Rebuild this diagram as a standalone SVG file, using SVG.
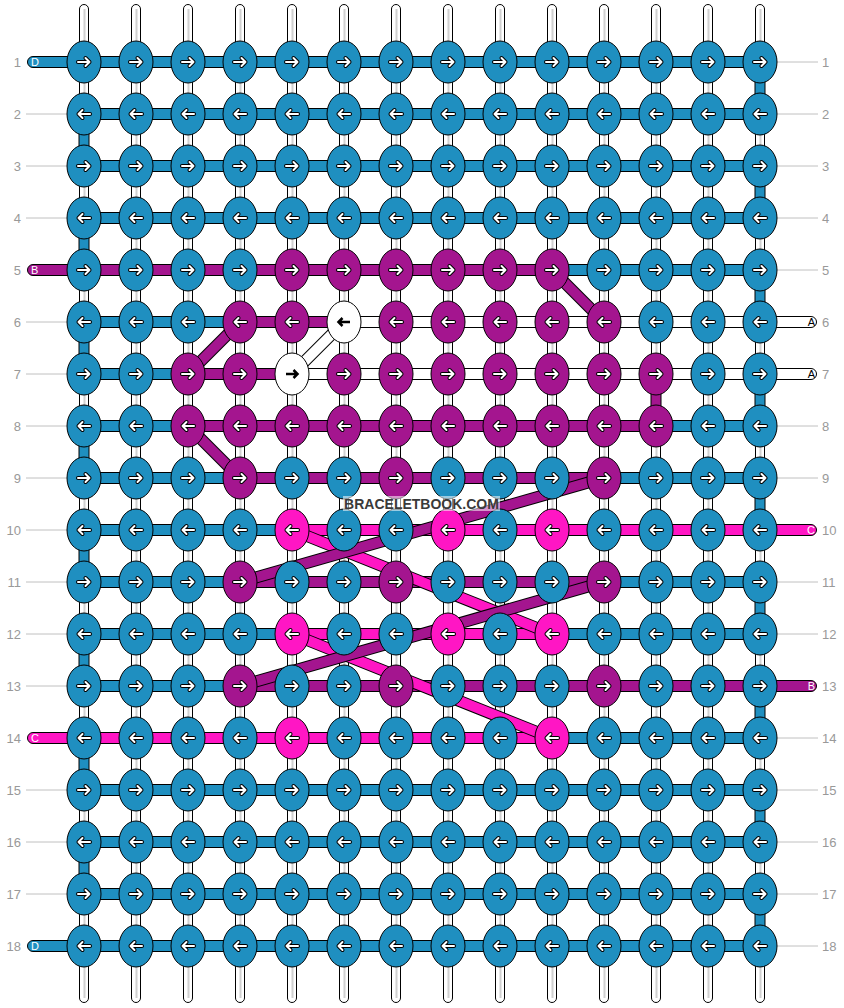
<svg xmlns="http://www.w3.org/2000/svg" xmlns:xlink="http://www.w3.org/1999/xlink" width="844" height="1008" viewBox="0 0 844 1008">
<style>
.t{fill:#fff;stroke:#000;stroke-width:1}
.tc{stroke:#d0d0d0;stroke-width:2}
.hb{stroke:#000;stroke-width:1}
.B{fill:#1f8fc0}.P{fill:#a4158f}.K{fill:#ff16c4}.W{fill:#fff}
ellipse{stroke:#000;stroke-width:1}
.ao{stroke:#000;stroke-width:4;fill:none;stroke-linecap:round;stroke-linejoin:round}
.ai{stroke:#fff;stroke-width:2;fill:none;stroke-linecap:round;stroke-linejoin:round}
.ab{stroke:#000;stroke-width:2.5;fill:none}
.gl{stroke:#c0c0c0;stroke-width:1}
.num{font-family:"Liberation Sans",Arial,sans-serif;font-size:13px;fill:#999}
.lab{font-family:"Liberation Sans",Arial,sans-serif;font-size:11px}
.dO{stroke:#000;stroke-width:12}
.dP{stroke:#a4158f;stroke-width:10}
.dK{stroke:#ff16c4;stroke-width:10}
.dW{stroke:#fff;stroke-width:10}
</style>
<defs>
<path id="ar" d="M-6,0H5.5M1.5,-4L5.5,0L1.5,4"/>
<path id="al" d="M6,0H-5.5M-1.5,-4L-5.5,0L-1.5,4"/>
<g id="R"><use href="#ar" class="ao"/><use href="#ar" class="ai"/></g>
<g id="L"><use href="#al" class="ao"/><use href="#al" class="ai"/></g>
<g id="RB"><use href="#ar" class="ab"/></g>
<g id="LB"><use href="#al" class="ab"/></g>
</defs>
<rect width="844" height="1008" fill="#fff"/>

<g id="row-labels">
<g class="gl">
<line x1="26" y1="114" x2="67" y2="114"/><line x1="26" y1="166" x2="67" y2="166"/><line x1="26" y1="218" x2="67" y2="218"/><line x1="26" y1="322" x2="67" y2="322"/><line x1="26" y1="374" x2="67" y2="374"/><line x1="26" y1="426" x2="67" y2="426"/><line x1="26" y1="478" x2="67" y2="478"/><line x1="26" y1="530" x2="67" y2="530"/><line x1="26" y1="582" x2="67" y2="582"/><line x1="26" y1="634" x2="67" y2="634"/><line x1="26" y1="686" x2="67" y2="686"/><line x1="26" y1="790" x2="67" y2="790"/><line x1="26" y1="842" x2="67" y2="842"/><line x1="26" y1="894" x2="67" y2="894"/>
<line x1="777" y1="62" x2="818" y2="62"/><line x1="777" y1="114" x2="818" y2="114"/><line x1="777" y1="166" x2="818" y2="166"/><line x1="777" y1="218" x2="818" y2="218"/><line x1="777" y1="270" x2="818" y2="270"/><line x1="777" y1="426" x2="818" y2="426"/><line x1="777" y1="478" x2="818" y2="478"/><line x1="777" y1="582" x2="818" y2="582"/><line x1="777" y1="634" x2="818" y2="634"/><line x1="777" y1="738" x2="818" y2="738"/><line x1="777" y1="790" x2="818" y2="790"/><line x1="777" y1="842" x2="818" y2="842"/><line x1="777" y1="894" x2="818" y2="894"/><line x1="777" y1="946" x2="818" y2="946"/>
</g>
<g class="num" text-anchor="end">
<text x="21" y="66.5">1</text><text x="21" y="118.5">2</text><text x="21" y="170.5">3</text><text x="21" y="222.5">4</text><text x="21" y="274.5">5</text><text x="21" y="326.5">6</text><text x="21" y="378.5">7</text><text x="21" y="430.5">8</text><text x="21" y="482.5">9</text><text x="21" y="534.5">10</text><text x="21" y="586.5">11</text><text x="21" y="638.5">12</text><text x="21" y="690.5">13</text><text x="21" y="742.5">14</text><text x="21" y="794.5">15</text><text x="21" y="846.5">16</text><text x="21" y="898.5">17</text><text x="21" y="950.5">18</text>
</g>
<g class="num">
<text x="822" y="66.5">1</text><text x="822" y="118.5">2</text><text x="822" y="170.5">3</text><text x="822" y="222.5">4</text><text x="822" y="274.5">5</text><text x="822" y="326.5">6</text><text x="822" y="378.5">7</text><text x="822" y="430.5">8</text><text x="822" y="482.5">9</text><text x="822" y="534.5">10</text><text x="822" y="586.5">11</text><text x="822" y="638.5">12</text><text x="822" y="690.5">13</text><text x="822" y="742.5">14</text><text x="822" y="794.5">15</text><text x="822" y="846.5">16</text><text x="822" y="898.5">17</text><text x="822" y="950.5">18</text>
</g>
</g>

<g id="verticals">
<rect class="t" x="79.5" y="4.5" width="9" height="998" rx="4.5"/><rect class="t" x="131.5" y="4.5" width="9" height="998" rx="4.5"/><rect class="t" x="183.5" y="4.5" width="9" height="998" rx="4.5"/><rect class="t" x="235.5" y="4.5" width="9" height="998" rx="4.5"/><rect class="t" x="287.5" y="4.5" width="9" height="998" rx="4.5"/><rect class="t" x="339.5" y="4.5" width="9" height="998" rx="4.5"/><rect class="t" x="391.5" y="4.5" width="9" height="998" rx="4.5"/><rect class="t" x="443.5" y="4.5" width="9" height="998" rx="4.5"/><rect class="t" x="495.5" y="4.5" width="9" height="998" rx="4.5"/><rect class="t" x="547.5" y="4.5" width="9" height="998" rx="4.5"/><rect class="t" x="599.5" y="4.5" width="9" height="998" rx="4.5"/><rect class="t" x="651.5" y="4.5" width="9" height="998" rx="4.5"/><rect class="t" x="703.5" y="4.5" width="9" height="998" rx="4.5"/><rect class="t" x="755.5" y="4.5" width="9" height="998" rx="4.5"/>
<g class="tc">
<line x1="84.5" y1="9" x2="84.5" y2="998"/><line x1="136.5" y1="9" x2="136.5" y2="998"/><line x1="188.5" y1="9" x2="188.5" y2="998"/><line x1="240.5" y1="9" x2="240.5" y2="998"/><line x1="292.5" y1="9" x2="292.5" y2="998"/><line x1="344.5" y1="9" x2="344.5" y2="998"/><line x1="396.5" y1="9" x2="396.5" y2="998"/><line x1="448.5" y1="9" x2="448.5" y2="998"/><line x1="500.5" y1="9" x2="500.5" y2="998"/><line x1="552.5" y1="9" x2="552.5" y2="998"/><line x1="604.5" y1="9" x2="604.5" y2="998"/><line x1="656.5" y1="9" x2="656.5" y2="998"/><line x1="708.5" y1="9" x2="708.5" y2="998"/><line x1="760.5" y1="9" x2="760.5" y2="998"/>
</g>
</g>

<g id="connectors">
<g class="hb">
<!-- row 1 -->
<rect class="B" x="27.5" y="56.5" width="733" height="11" rx="5.5"/>
<rect class="B" x="84" y="108.5" width="676" height="11"/>
<rect class="B" x="84" y="160.5" width="676" height="11"/>
<rect class="B" x="84" y="212.5" width="676" height="11"/>
<!-- row 5 -->
<rect class="P" x="27.5" y="264.5" width="524.5" height="11" rx="5.5"/>
<rect class="B" x="552" y="264.5" width="208" height="11"/>
<!-- row 6 -->
<rect class="B" x="84" y="316.5" width="156" height="11"/>
<rect class="P" x="240" y="316.5" width="104" height="11"/>
<rect class="W" x="344" y="316.5" width="472.5" height="11" rx="5.5"/>
<!-- row 7 -->
<rect class="B" x="84" y="368.5" width="104" height="11"/>
<rect class="P" x="188" y="368.5" width="104" height="11"/>
<rect class="W" x="292" y="368.5" width="524.5" height="11" rx="5.5"/>
<!-- row 8 -->
<rect class="B" x="84" y="420.5" width="104" height="11"/>
<rect class="P" x="188" y="420.5" width="468" height="11"/>
<rect class="B" x="656" y="420.5" width="104" height="11"/>
<!-- row 9 -->
<rect class="B" x="84" y="472.5" width="156" height="11"/>
<rect class="P" x="240" y="472.5" width="364" height="11"/>
<rect class="B" x="604" y="472.5" width="156" height="11"/>
<!-- row 10 -->
<rect class="B" x="84" y="524.5" width="208" height="11"/>
<rect class="K" x="292" y="524.5" width="524.5" height="11" rx="5.5"/>
<!-- row 11 -->
<rect class="B" x="84" y="576.5" width="156" height="11"/>
<rect class="P" x="240" y="576.5" width="364" height="11"/>
<rect class="B" x="604" y="576.5" width="156" height="11"/>
<!-- row 12 -->
<rect class="B" x="84" y="628.5" width="208" height="11"/>
<rect class="K" x="292" y="628.5" width="260" height="11"/>
<rect class="B" x="552" y="628.5" width="208" height="11"/>
<!-- row 13 -->
<rect class="B" x="84" y="680.5" width="156" height="11"/>
<rect class="P" x="240" y="680.5" width="576.5" height="11" rx="5.5"/>
<!-- row 14 -->
<rect class="K" x="27.5" y="732.5" width="524.5" height="11" rx="5.5"/>
<rect class="B" x="552" y="732.5" width="208" height="11"/>
<!-- rows 15-18 -->
<rect class="B" x="84" y="784.5" width="676" height="11"/>
<rect class="B" x="84" y="836.5" width="676" height="11"/>
<rect class="B" x="84" y="888.5" width="676" height="11"/>
<rect class="B" x="27.5" y="940.5" width="733" height="11" rx="5.5"/>
<!-- vertical colored segments left edge -->
<rect class="B" x="79" y="114" width="10" height="52"/><rect class="B" x="79" y="218" width="10" height="52"/><rect class="B" x="79" y="322" width="10" height="52"/><rect class="B" x="79" y="426" width="10" height="52"/><rect class="B" x="79" y="530" width="10" height="52"/><rect class="B" x="79" y="634" width="10" height="52"/><rect class="B" x="79" y="738" width="10" height="52"/><rect class="B" x="79" y="842" width="10" height="52"/>
<!-- right edge -->
<rect class="B" x="755" y="62" width="10" height="52"/><rect class="B" x="755" y="166" width="10" height="52"/><rect class="B" x="755" y="270" width="10" height="52"/><rect class="B" x="755" y="374" width="10" height="52"/><rect class="B" x="755" y="478" width="10" height="52"/><rect class="B" x="755" y="582" width="10" height="52"/><rect class="B" x="755" y="686" width="10" height="52"/><rect class="B" x="755" y="790" width="10" height="52"/><rect class="B" x="755" y="894" width="10" height="52"/>
<rect class="P" x="651" y="374" width="10" height="52"/>
</g>
<g class="lab">
<text x="31" y="66" fill="#fff">D</text>
<text x="31" y="274" fill="#fff">B</text>
<text x="31" y="742" fill="#fff">C</text>
<text x="31" y="950" fill="#fff">D</text>
<text x="815" y="326" fill="#000" text-anchor="end">A</text>
<text x="815" y="378" fill="#000" text-anchor="end">A</text>
<text x="815" y="534" fill="#fff" text-anchor="end">C</text>
<text x="815" y="690" fill="#fff" text-anchor="end">B</text>
</g>
<!-- diagonals -->
<line class="dO" x1="344" y1="322" x2="292" y2="374"/><line class="dW" x1="344" y1="322" x2="292" y2="374"/>
<line class="dO" x1="552" y1="270" x2="604" y2="322"/><line class="dP" x1="552" y1="270" x2="604" y2="322"/>
<line class="dO" x1="240" y1="322" x2="188" y2="374"/><line class="dP" x1="240" y1="322" x2="188" y2="374"/>
<line class="dO" x1="188" y1="426" x2="240" y2="478"/><line class="dP" x1="188" y1="426" x2="240" y2="478"/>
<line class="dO" x1="292" y1="530" x2="552" y2="634"/><line class="dK" x1="292" y1="530" x2="552" y2="634"/>
<line class="dO" x1="292" y1="634" x2="552" y2="738"/><line class="dK" x1="292" y1="634" x2="552" y2="738"/>
<line class="dO" x1="604" y1="478" x2="240" y2="582"/><line class="dP" x1="604" y1="478" x2="240" y2="582"/>
<line class="dO" x1="604" y1="582" x2="240" y2="686"/><line class="dP" x1="604" y1="582" x2="240" y2="686"/>
</g>

<g id="knots">
<!-- row 1 -->
<g id="n1-1" class="B"><ellipse cx="84" cy="62" rx="17" ry="21"/><use href="#R" x="84" y="62"/></g>
<g id="n1-2" class="B"><ellipse cx="136" cy="62" rx="17" ry="21"/><use href="#R" x="136" y="62"/></g>
<g id="n1-3" class="B"><ellipse cx="188" cy="62" rx="17" ry="21"/><use href="#R" x="188" y="62"/></g>
<g id="n1-4" class="B"><ellipse cx="240" cy="62" rx="17" ry="21"/><use href="#R" x="240" y="62"/></g>
<g id="n1-5" class="B"><ellipse cx="292" cy="62" rx="17" ry="21"/><use href="#R" x="292" y="62"/></g>
<g id="n1-6" class="B"><ellipse cx="344" cy="62" rx="17" ry="21"/><use href="#R" x="344" y="62"/></g>
<g id="n1-7" class="B"><ellipse cx="396" cy="62" rx="17" ry="21"/><use href="#R" x="396" y="62"/></g>
<g id="n1-8" class="B"><ellipse cx="448" cy="62" rx="17" ry="21"/><use href="#R" x="448" y="62"/></g>
<g id="n1-9" class="B"><ellipse cx="500" cy="62" rx="17" ry="21"/><use href="#R" x="500" y="62"/></g>
<g id="n1-10" class="B"><ellipse cx="552" cy="62" rx="17" ry="21"/><use href="#R" x="552" y="62"/></g>
<g id="n1-11" class="B"><ellipse cx="604" cy="62" rx="17" ry="21"/><use href="#R" x="604" y="62"/></g>
<g id="n1-12" class="B"><ellipse cx="656" cy="62" rx="17" ry="21"/><use href="#R" x="656" y="62"/></g>
<g id="n1-13" class="B"><ellipse cx="708" cy="62" rx="17" ry="21"/><use href="#R" x="708" y="62"/></g>
<g id="n1-14" class="B"><ellipse cx="760" cy="62" rx="17" ry="21"/><use href="#R" x="760" y="62"/></g>
<!-- row 2 -->
<g id="n2-1" class="B"><ellipse cx="84" cy="114" rx="17" ry="21"/><use href="#L" x="84" y="114"/></g>
<g id="n2-2" class="B"><ellipse cx="136" cy="114" rx="17" ry="21"/><use href="#L" x="136" y="114"/></g>
<g id="n2-3" class="B"><ellipse cx="188" cy="114" rx="17" ry="21"/><use href="#L" x="188" y="114"/></g>
<g id="n2-4" class="B"><ellipse cx="240" cy="114" rx="17" ry="21"/><use href="#L" x="240" y="114"/></g>
<g id="n2-5" class="B"><ellipse cx="292" cy="114" rx="17" ry="21"/><use href="#L" x="292" y="114"/></g>
<g id="n2-6" class="B"><ellipse cx="344" cy="114" rx="17" ry="21"/><use href="#L" x="344" y="114"/></g>
<g id="n2-7" class="B"><ellipse cx="396" cy="114" rx="17" ry="21"/><use href="#L" x="396" y="114"/></g>
<g id="n2-8" class="B"><ellipse cx="448" cy="114" rx="17" ry="21"/><use href="#L" x="448" y="114"/></g>
<g id="n2-9" class="B"><ellipse cx="500" cy="114" rx="17" ry="21"/><use href="#L" x="500" y="114"/></g>
<g id="n2-10" class="B"><ellipse cx="552" cy="114" rx="17" ry="21"/><use href="#L" x="552" y="114"/></g>
<g id="n2-11" class="B"><ellipse cx="604" cy="114" rx="17" ry="21"/><use href="#L" x="604" y="114"/></g>
<g id="n2-12" class="B"><ellipse cx="656" cy="114" rx="17" ry="21"/><use href="#L" x="656" y="114"/></g>
<g id="n2-13" class="B"><ellipse cx="708" cy="114" rx="17" ry="21"/><use href="#L" x="708" y="114"/></g>
<g id="n2-14" class="B"><ellipse cx="760" cy="114" rx="17" ry="21"/><use href="#L" x="760" y="114"/></g>
<!-- row 3 -->
<g id="n3-1" class="B"><ellipse cx="84" cy="166" rx="17" ry="21"/><use href="#R" x="84" y="166"/></g>
<g id="n3-2" class="B"><ellipse cx="136" cy="166" rx="17" ry="21"/><use href="#R" x="136" y="166"/></g>
<g id="n3-3" class="B"><ellipse cx="188" cy="166" rx="17" ry="21"/><use href="#R" x="188" y="166"/></g>
<g id="n3-4" class="B"><ellipse cx="240" cy="166" rx="17" ry="21"/><use href="#R" x="240" y="166"/></g>
<g id="n3-5" class="B"><ellipse cx="292" cy="166" rx="17" ry="21"/><use href="#R" x="292" y="166"/></g>
<g id="n3-6" class="B"><ellipse cx="344" cy="166" rx="17" ry="21"/><use href="#R" x="344" y="166"/></g>
<g id="n3-7" class="B"><ellipse cx="396" cy="166" rx="17" ry="21"/><use href="#R" x="396" y="166"/></g>
<g id="n3-8" class="B"><ellipse cx="448" cy="166" rx="17" ry="21"/><use href="#R" x="448" y="166"/></g>
<g id="n3-9" class="B"><ellipse cx="500" cy="166" rx="17" ry="21"/><use href="#R" x="500" y="166"/></g>
<g id="n3-10" class="B"><ellipse cx="552" cy="166" rx="17" ry="21"/><use href="#R" x="552" y="166"/></g>
<g id="n3-11" class="B"><ellipse cx="604" cy="166" rx="17" ry="21"/><use href="#R" x="604" y="166"/></g>
<g id="n3-12" class="B"><ellipse cx="656" cy="166" rx="17" ry="21"/><use href="#R" x="656" y="166"/></g>
<g id="n3-13" class="B"><ellipse cx="708" cy="166" rx="17" ry="21"/><use href="#R" x="708" y="166"/></g>
<g id="n3-14" class="B"><ellipse cx="760" cy="166" rx="17" ry="21"/><use href="#R" x="760" y="166"/></g>
<!-- row 4 -->
<g id="n4-1" class="B"><ellipse cx="84" cy="218" rx="17" ry="21"/><use href="#L" x="84" y="218"/></g>
<g id="n4-2" class="B"><ellipse cx="136" cy="218" rx="17" ry="21"/><use href="#L" x="136" y="218"/></g>
<g id="n4-3" class="B"><ellipse cx="188" cy="218" rx="17" ry="21"/><use href="#L" x="188" y="218"/></g>
<g id="n4-4" class="B"><ellipse cx="240" cy="218" rx="17" ry="21"/><use href="#L" x="240" y="218"/></g>
<g id="n4-5" class="B"><ellipse cx="292" cy="218" rx="17" ry="21"/><use href="#L" x="292" y="218"/></g>
<g id="n4-6" class="B"><ellipse cx="344" cy="218" rx="17" ry="21"/><use href="#L" x="344" y="218"/></g>
<g id="n4-7" class="B"><ellipse cx="396" cy="218" rx="17" ry="21"/><use href="#L" x="396" y="218"/></g>
<g id="n4-8" class="B"><ellipse cx="448" cy="218" rx="17" ry="21"/><use href="#L" x="448" y="218"/></g>
<g id="n4-9" class="B"><ellipse cx="500" cy="218" rx="17" ry="21"/><use href="#L" x="500" y="218"/></g>
<g id="n4-10" class="B"><ellipse cx="552" cy="218" rx="17" ry="21"/><use href="#L" x="552" y="218"/></g>
<g id="n4-11" class="B"><ellipse cx="604" cy="218" rx="17" ry="21"/><use href="#L" x="604" y="218"/></g>
<g id="n4-12" class="B"><ellipse cx="656" cy="218" rx="17" ry="21"/><use href="#L" x="656" y="218"/></g>
<g id="n4-13" class="B"><ellipse cx="708" cy="218" rx="17" ry="21"/><use href="#L" x="708" y="218"/></g>
<g id="n4-14" class="B"><ellipse cx="760" cy="218" rx="17" ry="21"/><use href="#L" x="760" y="218"/></g>
<!-- row 5 -->
<g id="n5-1" class="B"><ellipse cx="84" cy="270" rx="17" ry="21"/><use href="#R" x="84" y="270"/></g>
<g id="n5-2" class="B"><ellipse cx="136" cy="270" rx="17" ry="21"/><use href="#R" x="136" y="270"/></g>
<g id="n5-3" class="B"><ellipse cx="188" cy="270" rx="17" ry="21"/><use href="#R" x="188" y="270"/></g>
<g id="n5-4" class="B"><ellipse cx="240" cy="270" rx="17" ry="21"/><use href="#R" x="240" y="270"/></g>
<g id="n5-5" class="P"><ellipse cx="292" cy="270" rx="17" ry="21"/><use href="#R" x="292" y="270"/></g>
<g id="n5-6" class="P"><ellipse cx="344" cy="270" rx="17" ry="21"/><use href="#R" x="344" y="270"/></g>
<g id="n5-7" class="P"><ellipse cx="396" cy="270" rx="17" ry="21"/><use href="#R" x="396" y="270"/></g>
<g id="n5-8" class="P"><ellipse cx="448" cy="270" rx="17" ry="21"/><use href="#R" x="448" y="270"/></g>
<g id="n5-9" class="P"><ellipse cx="500" cy="270" rx="17" ry="21"/><use href="#R" x="500" y="270"/></g>
<g id="n5-10" class="P"><ellipse cx="552" cy="270" rx="17" ry="21"/><use href="#R" x="552" y="270"/></g>
<g id="n5-11" class="B"><ellipse cx="604" cy="270" rx="17" ry="21"/><use href="#R" x="604" y="270"/></g>
<g id="n5-12" class="B"><ellipse cx="656" cy="270" rx="17" ry="21"/><use href="#R" x="656" y="270"/></g>
<g id="n5-13" class="B"><ellipse cx="708" cy="270" rx="17" ry="21"/><use href="#R" x="708" y="270"/></g>
<g id="n5-14" class="B"><ellipse cx="760" cy="270" rx="17" ry="21"/><use href="#R" x="760" y="270"/></g>
<!-- row 6 -->
<g id="n6-1" class="B"><ellipse cx="84" cy="322" rx="17" ry="21"/><use href="#L" x="84" y="322"/></g>
<g id="n6-2" class="B"><ellipse cx="136" cy="322" rx="17" ry="21"/><use href="#L" x="136" y="322"/></g>
<g id="n6-3" class="B"><ellipse cx="188" cy="322" rx="17" ry="21"/><use href="#L" x="188" y="322"/></g>
<g id="n6-4" class="P"><ellipse cx="240" cy="322" rx="17" ry="21"/><use href="#L" x="240" y="322"/></g>
<g id="n6-5" class="P"><ellipse cx="292" cy="322" rx="17" ry="21"/><use href="#L" x="292" y="322"/></g>
<g id="n6-6" class="W"><ellipse cx="344" cy="322" rx="17" ry="21"/><use href="#LB" x="344" y="322"/></g>
<g id="n6-7" class="P"><ellipse cx="396" cy="322" rx="17" ry="21"/><use href="#L" x="396" y="322"/></g>
<g id="n6-8" class="P"><ellipse cx="448" cy="322" rx="17" ry="21"/><use href="#L" x="448" y="322"/></g>
<g id="n6-9" class="P"><ellipse cx="500" cy="322" rx="17" ry="21"/><use href="#L" x="500" y="322"/></g>
<g id="n6-10" class="P"><ellipse cx="552" cy="322" rx="17" ry="21"/><use href="#L" x="552" y="322"/></g>
<g id="n6-11" class="P"><ellipse cx="604" cy="322" rx="17" ry="21"/><use href="#L" x="604" y="322"/></g>
<g id="n6-12" class="B"><ellipse cx="656" cy="322" rx="17" ry="21"/><use href="#L" x="656" y="322"/></g>
<g id="n6-13" class="B"><ellipse cx="708" cy="322" rx="17" ry="21"/><use href="#L" x="708" y="322"/></g>
<g id="n6-14" class="B"><ellipse cx="760" cy="322" rx="17" ry="21"/><use href="#L" x="760" y="322"/></g>
<!-- row 7 -->
<g id="n7-1" class="B"><ellipse cx="84" cy="374" rx="17" ry="21"/><use href="#R" x="84" y="374"/></g>
<g id="n7-2" class="B"><ellipse cx="136" cy="374" rx="17" ry="21"/><use href="#R" x="136" y="374"/></g>
<g id="n7-3" class="P"><ellipse cx="188" cy="374" rx="17" ry="21"/><use href="#R" x="188" y="374"/></g>
<g id="n7-4" class="P"><ellipse cx="240" cy="374" rx="17" ry="21"/><use href="#R" x="240" y="374"/></g>
<g id="n7-5" class="W"><ellipse cx="292" cy="374" rx="17" ry="21"/><use href="#RB" x="292" y="374"/></g>
<g id="n7-6" class="P"><ellipse cx="344" cy="374" rx="17" ry="21"/><use href="#R" x="344" y="374"/></g>
<g id="n7-7" class="P"><ellipse cx="396" cy="374" rx="17" ry="21"/><use href="#R" x="396" y="374"/></g>
<g id="n7-8" class="P"><ellipse cx="448" cy="374" rx="17" ry="21"/><use href="#R" x="448" y="374"/></g>
<g id="n7-9" class="P"><ellipse cx="500" cy="374" rx="17" ry="21"/><use href="#R" x="500" y="374"/></g>
<g id="n7-10" class="P"><ellipse cx="552" cy="374" rx="17" ry="21"/><use href="#R" x="552" y="374"/></g>
<g id="n7-11" class="P"><ellipse cx="604" cy="374" rx="17" ry="21"/><use href="#R" x="604" y="374"/></g>
<g id="n7-12" class="P"><ellipse cx="656" cy="374" rx="17" ry="21"/><use href="#R" x="656" y="374"/></g>
<g id="n7-13" class="B"><ellipse cx="708" cy="374" rx="17" ry="21"/><use href="#R" x="708" y="374"/></g>
<g id="n7-14" class="B"><ellipse cx="760" cy="374" rx="17" ry="21"/><use href="#R" x="760" y="374"/></g>
<!-- row 8 -->
<g id="n8-1" class="B"><ellipse cx="84" cy="426" rx="17" ry="21"/><use href="#L" x="84" y="426"/></g>
<g id="n8-2" class="B"><ellipse cx="136" cy="426" rx="17" ry="21"/><use href="#L" x="136" y="426"/></g>
<g id="n8-3" class="P"><ellipse cx="188" cy="426" rx="17" ry="21"/><use href="#L" x="188" y="426"/></g>
<g id="n8-4" class="P"><ellipse cx="240" cy="426" rx="17" ry="21"/><use href="#L" x="240" y="426"/></g>
<g id="n8-5" class="P"><ellipse cx="292" cy="426" rx="17" ry="21"/><use href="#L" x="292" y="426"/></g>
<g id="n8-6" class="P"><ellipse cx="344" cy="426" rx="17" ry="21"/><use href="#L" x="344" y="426"/></g>
<g id="n8-7" class="P"><ellipse cx="396" cy="426" rx="17" ry="21"/><use href="#L" x="396" y="426"/></g>
<g id="n8-8" class="P"><ellipse cx="448" cy="426" rx="17" ry="21"/><use href="#L" x="448" y="426"/></g>
<g id="n8-9" class="P"><ellipse cx="500" cy="426" rx="17" ry="21"/><use href="#L" x="500" y="426"/></g>
<g id="n8-10" class="P"><ellipse cx="552" cy="426" rx="17" ry="21"/><use href="#L" x="552" y="426"/></g>
<g id="n8-11" class="P"><ellipse cx="604" cy="426" rx="17" ry="21"/><use href="#L" x="604" y="426"/></g>
<g id="n8-12" class="P"><ellipse cx="656" cy="426" rx="17" ry="21"/><use href="#L" x="656" y="426"/></g>
<g id="n8-13" class="B"><ellipse cx="708" cy="426" rx="17" ry="21"/><use href="#L" x="708" y="426"/></g>
<g id="n8-14" class="B"><ellipse cx="760" cy="426" rx="17" ry="21"/><use href="#L" x="760" y="426"/></g>
<!-- row 9 -->
<g id="n9-1" class="B"><ellipse cx="84" cy="478" rx="17" ry="21"/><use href="#R" x="84" y="478"/></g>
<g id="n9-2" class="B"><ellipse cx="136" cy="478" rx="17" ry="21"/><use href="#R" x="136" y="478"/></g>
<g id="n9-3" class="B"><ellipse cx="188" cy="478" rx="17" ry="21"/><use href="#R" x="188" y="478"/></g>
<g id="n9-4" class="P"><ellipse cx="240" cy="478" rx="17" ry="21"/><use href="#R" x="240" y="478"/></g>
<g id="n9-5" class="B"><ellipse cx="292" cy="478" rx="17" ry="21"/><use href="#R" x="292" y="478"/></g>
<g id="n9-6" class="B"><ellipse cx="344" cy="478" rx="17" ry="21"/><use href="#R" x="344" y="478"/></g>
<g id="n9-7" class="P"><ellipse cx="396" cy="478" rx="17" ry="21"/><use href="#R" x="396" y="478"/></g>
<g id="n9-8" class="B"><ellipse cx="448" cy="478" rx="17" ry="21"/><use href="#R" x="448" y="478"/></g>
<g id="n9-9" class="B"><ellipse cx="500" cy="478" rx="17" ry="21"/><use href="#R" x="500" y="478"/></g>
<g id="n9-10" class="B"><ellipse cx="552" cy="478" rx="17" ry="21"/><use href="#R" x="552" y="478"/></g>
<g id="n9-11" class="P"><ellipse cx="604" cy="478" rx="17" ry="21"/><use href="#R" x="604" y="478"/></g>
<g id="n9-12" class="B"><ellipse cx="656" cy="478" rx="17" ry="21"/><use href="#R" x="656" y="478"/></g>
<g id="n9-13" class="B"><ellipse cx="708" cy="478" rx="17" ry="21"/><use href="#R" x="708" y="478"/></g>
<g id="n9-14" class="B"><ellipse cx="760" cy="478" rx="17" ry="21"/><use href="#R" x="760" y="478"/></g>
<!-- row 10 -->
<g id="n10-1" class="B"><ellipse cx="84" cy="530" rx="17" ry="21"/><use href="#L" x="84" y="530"/></g>
<g id="n10-2" class="B"><ellipse cx="136" cy="530" rx="17" ry="21"/><use href="#L" x="136" y="530"/></g>
<g id="n10-3" class="B"><ellipse cx="188" cy="530" rx="17" ry="21"/><use href="#L" x="188" y="530"/></g>
<g id="n10-4" class="B"><ellipse cx="240" cy="530" rx="17" ry="21"/><use href="#L" x="240" y="530"/></g>
<g id="n10-5" class="K"><ellipse cx="292" cy="530" rx="17" ry="21"/><use href="#L" x="292" y="530"/></g>
<g id="n10-6" class="B"><ellipse cx="344" cy="530" rx="17" ry="21"/><use href="#L" x="344" y="530"/></g>
<g id="n10-7" class="B"><ellipse cx="396" cy="530" rx="17" ry="21"/><use href="#L" x="396" y="530"/></g>
<g id="n10-8" class="K"><ellipse cx="448" cy="530" rx="17" ry="21"/><use href="#L" x="448" y="530"/></g>
<g id="n10-9" class="B"><ellipse cx="500" cy="530" rx="17" ry="21"/><use href="#L" x="500" y="530"/></g>
<g id="n10-10" class="K"><ellipse cx="552" cy="530" rx="17" ry="21"/><use href="#L" x="552" y="530"/></g>
<g id="n10-11" class="B"><ellipse cx="604" cy="530" rx="17" ry="21"/><use href="#L" x="604" y="530"/></g>
<g id="n10-12" class="B"><ellipse cx="656" cy="530" rx="17" ry="21"/><use href="#L" x="656" y="530"/></g>
<g id="n10-13" class="B"><ellipse cx="708" cy="530" rx="17" ry="21"/><use href="#L" x="708" y="530"/></g>
<g id="n10-14" class="B"><ellipse cx="760" cy="530" rx="17" ry="21"/><use href="#L" x="760" y="530"/></g>
<!-- row 11 -->
<g id="n11-1" class="B"><ellipse cx="84" cy="582" rx="17" ry="21"/><use href="#R" x="84" y="582"/></g>
<g id="n11-2" class="B"><ellipse cx="136" cy="582" rx="17" ry="21"/><use href="#R" x="136" y="582"/></g>
<g id="n11-3" class="B"><ellipse cx="188" cy="582" rx="17" ry="21"/><use href="#R" x="188" y="582"/></g>
<g id="n11-4" class="P"><ellipse cx="240" cy="582" rx="17" ry="21"/><use href="#R" x="240" y="582"/></g>
<g id="n11-5" class="B"><ellipse cx="292" cy="582" rx="17" ry="21"/><use href="#R" x="292" y="582"/></g>
<g id="n11-6" class="B"><ellipse cx="344" cy="582" rx="17" ry="21"/><use href="#R" x="344" y="582"/></g>
<g id="n11-7" class="P"><ellipse cx="396" cy="582" rx="17" ry="21"/><use href="#R" x="396" y="582"/></g>
<g id="n11-8" class="B"><ellipse cx="448" cy="582" rx="17" ry="21"/><use href="#R" x="448" y="582"/></g>
<g id="n11-9" class="B"><ellipse cx="500" cy="582" rx="17" ry="21"/><use href="#R" x="500" y="582"/></g>
<g id="n11-10" class="B"><ellipse cx="552" cy="582" rx="17" ry="21"/><use href="#R" x="552" y="582"/></g>
<g id="n11-11" class="P"><ellipse cx="604" cy="582" rx="17" ry="21"/><use href="#R" x="604" y="582"/></g>
<g id="n11-12" class="B"><ellipse cx="656" cy="582" rx="17" ry="21"/><use href="#R" x="656" y="582"/></g>
<g id="n11-13" class="B"><ellipse cx="708" cy="582" rx="17" ry="21"/><use href="#R" x="708" y="582"/></g>
<g id="n11-14" class="B"><ellipse cx="760" cy="582" rx="17" ry="21"/><use href="#R" x="760" y="582"/></g>
<!-- row 12 -->
<g id="n12-1" class="B"><ellipse cx="84" cy="634" rx="17" ry="21"/><use href="#L" x="84" y="634"/></g>
<g id="n12-2" class="B"><ellipse cx="136" cy="634" rx="17" ry="21"/><use href="#L" x="136" y="634"/></g>
<g id="n12-3" class="B"><ellipse cx="188" cy="634" rx="17" ry="21"/><use href="#L" x="188" y="634"/></g>
<g id="n12-4" class="B"><ellipse cx="240" cy="634" rx="17" ry="21"/><use href="#L" x="240" y="634"/></g>
<g id="n12-5" class="K"><ellipse cx="292" cy="634" rx="17" ry="21"/><use href="#L" x="292" y="634"/></g>
<g id="n12-6" class="B"><ellipse cx="344" cy="634" rx="17" ry="21"/><use href="#L" x="344" y="634"/></g>
<g id="n12-7" class="B"><ellipse cx="396" cy="634" rx="17" ry="21"/><use href="#L" x="396" y="634"/></g>
<g id="n12-8" class="K"><ellipse cx="448" cy="634" rx="17" ry="21"/><use href="#L" x="448" y="634"/></g>
<g id="n12-9" class="B"><ellipse cx="500" cy="634" rx="17" ry="21"/><use href="#L" x="500" y="634"/></g>
<g id="n12-10" class="K"><ellipse cx="552" cy="634" rx="17" ry="21"/><use href="#L" x="552" y="634"/></g>
<g id="n12-11" class="B"><ellipse cx="604" cy="634" rx="17" ry="21"/><use href="#L" x="604" y="634"/></g>
<g id="n12-12" class="B"><ellipse cx="656" cy="634" rx="17" ry="21"/><use href="#L" x="656" y="634"/></g>
<g id="n12-13" class="B"><ellipse cx="708" cy="634" rx="17" ry="21"/><use href="#L" x="708" y="634"/></g>
<g id="n12-14" class="B"><ellipse cx="760" cy="634" rx="17" ry="21"/><use href="#L" x="760" y="634"/></g>
<!-- row 13 -->
<g id="n13-1" class="B"><ellipse cx="84" cy="686" rx="17" ry="21"/><use href="#R" x="84" y="686"/></g>
<g id="n13-2" class="B"><ellipse cx="136" cy="686" rx="17" ry="21"/><use href="#R" x="136" y="686"/></g>
<g id="n13-3" class="B"><ellipse cx="188" cy="686" rx="17" ry="21"/><use href="#R" x="188" y="686"/></g>
<g id="n13-4" class="P"><ellipse cx="240" cy="686" rx="17" ry="21"/><use href="#R" x="240" y="686"/></g>
<g id="n13-5" class="B"><ellipse cx="292" cy="686" rx="17" ry="21"/><use href="#R" x="292" y="686"/></g>
<g id="n13-6" class="B"><ellipse cx="344" cy="686" rx="17" ry="21"/><use href="#R" x="344" y="686"/></g>
<g id="n13-7" class="P"><ellipse cx="396" cy="686" rx="17" ry="21"/><use href="#R" x="396" y="686"/></g>
<g id="n13-8" class="B"><ellipse cx="448" cy="686" rx="17" ry="21"/><use href="#R" x="448" y="686"/></g>
<g id="n13-9" class="B"><ellipse cx="500" cy="686" rx="17" ry="21"/><use href="#R" x="500" y="686"/></g>
<g id="n13-10" class="B"><ellipse cx="552" cy="686" rx="17" ry="21"/><use href="#R" x="552" y="686"/></g>
<g id="n13-11" class="P"><ellipse cx="604" cy="686" rx="17" ry="21"/><use href="#R" x="604" y="686"/></g>
<g id="n13-12" class="B"><ellipse cx="656" cy="686" rx="17" ry="21"/><use href="#R" x="656" y="686"/></g>
<g id="n13-13" class="B"><ellipse cx="708" cy="686" rx="17" ry="21"/><use href="#R" x="708" y="686"/></g>
<g id="n13-14" class="B"><ellipse cx="760" cy="686" rx="17" ry="21"/><use href="#R" x="760" y="686"/></g>
<!-- row 14 -->
<g id="n14-1" class="B"><ellipse cx="84" cy="738" rx="17" ry="21"/><use href="#L" x="84" y="738"/></g>
<g id="n14-2" class="B"><ellipse cx="136" cy="738" rx="17" ry="21"/><use href="#L" x="136" y="738"/></g>
<g id="n14-3" class="B"><ellipse cx="188" cy="738" rx="17" ry="21"/><use href="#L" x="188" y="738"/></g>
<g id="n14-4" class="B"><ellipse cx="240" cy="738" rx="17" ry="21"/><use href="#L" x="240" y="738"/></g>
<g id="n14-5" class="K"><ellipse cx="292" cy="738" rx="17" ry="21"/><use href="#L" x="292" y="738"/></g>
<g id="n14-6" class="B"><ellipse cx="344" cy="738" rx="17" ry="21"/><use href="#L" x="344" y="738"/></g>
<g id="n14-7" class="B"><ellipse cx="396" cy="738" rx="17" ry="21"/><use href="#L" x="396" y="738"/></g>
<g id="n14-8" class="B"><ellipse cx="448" cy="738" rx="17" ry="21"/><use href="#L" x="448" y="738"/></g>
<g id="n14-9" class="B"><ellipse cx="500" cy="738" rx="17" ry="21"/><use href="#L" x="500" y="738"/></g>
<g id="n14-10" class="K"><ellipse cx="552" cy="738" rx="17" ry="21"/><use href="#L" x="552" y="738"/></g>
<g id="n14-11" class="B"><ellipse cx="604" cy="738" rx="17" ry="21"/><use href="#L" x="604" y="738"/></g>
<g id="n14-12" class="B"><ellipse cx="656" cy="738" rx="17" ry="21"/><use href="#L" x="656" y="738"/></g>
<g id="n14-13" class="B"><ellipse cx="708" cy="738" rx="17" ry="21"/><use href="#L" x="708" y="738"/></g>
<g id="n14-14" class="B"><ellipse cx="760" cy="738" rx="17" ry="21"/><use href="#L" x="760" y="738"/></g>
<!-- row 15 -->
<g id="n15-1" class="B"><ellipse cx="84" cy="790" rx="17" ry="21"/><use href="#R" x="84" y="790"/></g>
<g id="n15-2" class="B"><ellipse cx="136" cy="790" rx="17" ry="21"/><use href="#R" x="136" y="790"/></g>
<g id="n15-3" class="B"><ellipse cx="188" cy="790" rx="17" ry="21"/><use href="#R" x="188" y="790"/></g>
<g id="n15-4" class="B"><ellipse cx="240" cy="790" rx="17" ry="21"/><use href="#R" x="240" y="790"/></g>
<g id="n15-5" class="B"><ellipse cx="292" cy="790" rx="17" ry="21"/><use href="#R" x="292" y="790"/></g>
<g id="n15-6" class="B"><ellipse cx="344" cy="790" rx="17" ry="21"/><use href="#R" x="344" y="790"/></g>
<g id="n15-7" class="B"><ellipse cx="396" cy="790" rx="17" ry="21"/><use href="#R" x="396" y="790"/></g>
<g id="n15-8" class="B"><ellipse cx="448" cy="790" rx="17" ry="21"/><use href="#R" x="448" y="790"/></g>
<g id="n15-9" class="B"><ellipse cx="500" cy="790" rx="17" ry="21"/><use href="#R" x="500" y="790"/></g>
<g id="n15-10" class="B"><ellipse cx="552" cy="790" rx="17" ry="21"/><use href="#R" x="552" y="790"/></g>
<g id="n15-11" class="B"><ellipse cx="604" cy="790" rx="17" ry="21"/><use href="#R" x="604" y="790"/></g>
<g id="n15-12" class="B"><ellipse cx="656" cy="790" rx="17" ry="21"/><use href="#R" x="656" y="790"/></g>
<g id="n15-13" class="B"><ellipse cx="708" cy="790" rx="17" ry="21"/><use href="#R" x="708" y="790"/></g>
<g id="n15-14" class="B"><ellipse cx="760" cy="790" rx="17" ry="21"/><use href="#R" x="760" y="790"/></g>
<!-- row 16 -->
<g id="n16-1" class="B"><ellipse cx="84" cy="842" rx="17" ry="21"/><use href="#L" x="84" y="842"/></g>
<g id="n16-2" class="B"><ellipse cx="136" cy="842" rx="17" ry="21"/><use href="#L" x="136" y="842"/></g>
<g id="n16-3" class="B"><ellipse cx="188" cy="842" rx="17" ry="21"/><use href="#L" x="188" y="842"/></g>
<g id="n16-4" class="B"><ellipse cx="240" cy="842" rx="17" ry="21"/><use href="#L" x="240" y="842"/></g>
<g id="n16-5" class="B"><ellipse cx="292" cy="842" rx="17" ry="21"/><use href="#L" x="292" y="842"/></g>
<g id="n16-6" class="B"><ellipse cx="344" cy="842" rx="17" ry="21"/><use href="#L" x="344" y="842"/></g>
<g id="n16-7" class="B"><ellipse cx="396" cy="842" rx="17" ry="21"/><use href="#L" x="396" y="842"/></g>
<g id="n16-8" class="B"><ellipse cx="448" cy="842" rx="17" ry="21"/><use href="#L" x="448" y="842"/></g>
<g id="n16-9" class="B"><ellipse cx="500" cy="842" rx="17" ry="21"/><use href="#L" x="500" y="842"/></g>
<g id="n16-10" class="B"><ellipse cx="552" cy="842" rx="17" ry="21"/><use href="#L" x="552" y="842"/></g>
<g id="n16-11" class="B"><ellipse cx="604" cy="842" rx="17" ry="21"/><use href="#L" x="604" y="842"/></g>
<g id="n16-12" class="B"><ellipse cx="656" cy="842" rx="17" ry="21"/><use href="#L" x="656" y="842"/></g>
<g id="n16-13" class="B"><ellipse cx="708" cy="842" rx="17" ry="21"/><use href="#L" x="708" y="842"/></g>
<g id="n16-14" class="B"><ellipse cx="760" cy="842" rx="17" ry="21"/><use href="#L" x="760" y="842"/></g>
<!-- row 17 -->
<g id="n17-1" class="B"><ellipse cx="84" cy="894" rx="17" ry="21"/><use href="#R" x="84" y="894"/></g>
<g id="n17-2" class="B"><ellipse cx="136" cy="894" rx="17" ry="21"/><use href="#R" x="136" y="894"/></g>
<g id="n17-3" class="B"><ellipse cx="188" cy="894" rx="17" ry="21"/><use href="#R" x="188" y="894"/></g>
<g id="n17-4" class="B"><ellipse cx="240" cy="894" rx="17" ry="21"/><use href="#R" x="240" y="894"/></g>
<g id="n17-5" class="B"><ellipse cx="292" cy="894" rx="17" ry="21"/><use href="#R" x="292" y="894"/></g>
<g id="n17-6" class="B"><ellipse cx="344" cy="894" rx="17" ry="21"/><use href="#R" x="344" y="894"/></g>
<g id="n17-7" class="B"><ellipse cx="396" cy="894" rx="17" ry="21"/><use href="#R" x="396" y="894"/></g>
<g id="n17-8" class="B"><ellipse cx="448" cy="894" rx="17" ry="21"/><use href="#R" x="448" y="894"/></g>
<g id="n17-9" class="B"><ellipse cx="500" cy="894" rx="17" ry="21"/><use href="#R" x="500" y="894"/></g>
<g id="n17-10" class="B"><ellipse cx="552" cy="894" rx="17" ry="21"/><use href="#R" x="552" y="894"/></g>
<g id="n17-11" class="B"><ellipse cx="604" cy="894" rx="17" ry="21"/><use href="#R" x="604" y="894"/></g>
<g id="n17-12" class="B"><ellipse cx="656" cy="894" rx="17" ry="21"/><use href="#R" x="656" y="894"/></g>
<g id="n17-13" class="B"><ellipse cx="708" cy="894" rx="17" ry="21"/><use href="#R" x="708" y="894"/></g>
<g id="n17-14" class="B"><ellipse cx="760" cy="894" rx="17" ry="21"/><use href="#R" x="760" y="894"/></g>
<!-- row 18 -->
<g id="n18-1" class="B"><ellipse cx="84" cy="946" rx="17" ry="21"/><use href="#L" x="84" y="946"/></g>
<g id="n18-2" class="B"><ellipse cx="136" cy="946" rx="17" ry="21"/><use href="#L" x="136" y="946"/></g>
<g id="n18-3" class="B"><ellipse cx="188" cy="946" rx="17" ry="21"/><use href="#L" x="188" y="946"/></g>
<g id="n18-4" class="B"><ellipse cx="240" cy="946" rx="17" ry="21"/><use href="#L" x="240" y="946"/></g>
<g id="n18-5" class="B"><ellipse cx="292" cy="946" rx="17" ry="21"/><use href="#L" x="292" y="946"/></g>
<g id="n18-6" class="B"><ellipse cx="344" cy="946" rx="17" ry="21"/><use href="#L" x="344" y="946"/></g>
<g id="n18-7" class="B"><ellipse cx="396" cy="946" rx="17" ry="21"/><use href="#L" x="396" y="946"/></g>
<g id="n18-8" class="B"><ellipse cx="448" cy="946" rx="17" ry="21"/><use href="#L" x="448" y="946"/></g>
<g id="n18-9" class="B"><ellipse cx="500" cy="946" rx="17" ry="21"/><use href="#L" x="500" y="946"/></g>
<g id="n18-10" class="B"><ellipse cx="552" cy="946" rx="17" ry="21"/><use href="#L" x="552" y="946"/></g>
<g id="n18-11" class="B"><ellipse cx="604" cy="946" rx="17" ry="21"/><use href="#L" x="604" y="946"/></g>
<g id="n18-12" class="B"><ellipse cx="656" cy="946" rx="17" ry="21"/><use href="#L" x="656" y="946"/></g>
<g id="n18-13" class="B"><ellipse cx="708" cy="946" rx="17" ry="21"/><use href="#L" x="708" y="946"/></g>
<g id="n18-14" class="B"><ellipse cx="760" cy="946" rx="17" ry="21"/><use href="#L" x="760" y="946"/></g>
</g>

<g id="watermark">
<rect x="343" y="496" width="157" height="15" fill="#fff" fill-opacity="0.55"/>
<text x="421.5" y="509" text-anchor="middle" font-family="'Liberation Sans',Arial,sans-serif" font-weight="bold" font-size="14" fill="#3a3a3a">BRACELETBOOK.COM</text>
</g>
</svg>
